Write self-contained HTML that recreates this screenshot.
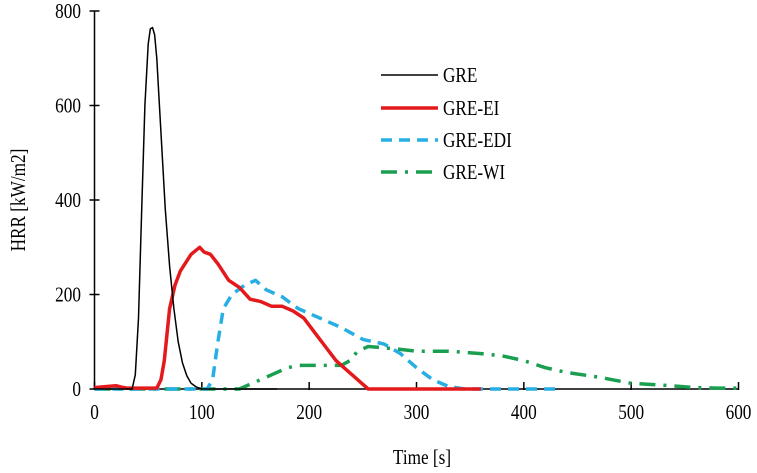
<!DOCTYPE html>
<html><head><meta charset="utf-8"><style>
html,body{margin:0;padding:0;background:#fff;}
svg{display:block;}
text{font-family:"Liberation Serif",serif;fill:#000;}
</style></head><body>
<svg id="chart" width="757" height="473" viewBox="0 0 757 473" xmlns="http://www.w3.org/2000/svg">
<g id="axes"></g><g id="series"></g><g id="legend"></g>
</svg>
<script>
const xTicks=[0,100,200,300,400,500,600];
const yTicks=[0,200,400,600,800];
const greT=[0,30,35,38,41,44,47,50,52,54,56,58,60,63,66,70,74,78,82,86,90,95,100,170];
const greV=[0,0,0,30,150,380,600,730,762,765,750,700,620,500,380,260,170,100,55,28,12,4,0,0];
const eiT=[0,10,20,25,30,45,58,62,65,70,75,80,90,98,102,108,115,125,135,145,155,165,175,185,195,205,215,225,235,245,255,300,360];
const eiV=[3,5,7,4,2,2,2,20,60,170,220,250,285,300,290,285,265,230,215,190,185,175,175,165,150,120,90,60,40,20,0,0,0];
const ediT=[0,105,110,115,120,128,140,150,160,175,190,210,230,250,270,285,300,315,330,345,430];
const ediV=[0,0,20,100,170,200,220,230,210,195,170,150,130,105,95,75,45,20,5,0,0];
const wiT=[0,135,150,165,180,190,210,230,238,245,255,280,300,330,360,380,400,420,440,470,500,530,560,580,600];
const wiV=[0,0,15,30,45,50,50,50,60,80,90,85,80,80,75,70,60,45,35,25,12,8,3,2,2];
const names=['GRE','GRE-EI','GRE-EDI','GRE-WI'];
const NS='http://www.w3.org/2000/svg';
const X0=94.5,X1=738.5,Y0=389,Y1=11;
const sx=t=>X0+(t/600)*(X1-X0);
const sy=v=>Y0-(v/800)*(Y0-Y1);
function mk(tag,attrs,parent){const e=document.createElementNS(NS,tag);for(const k in attrs)e.setAttribute(k,attrs[k]);parent.appendChild(e);return e;}
const FS=21,SC=0.82;
const axes=document.getElementById('axes');
const ya=mk('line',{x1:X0,y1:Y1,x2:X0,y2:Y0,stroke:'#000','stroke-width':1.5},axes);


const xa=mk('line',{x1:X0,y1:Y0,x2:X1,y2:Y0,stroke:'#000','stroke-width':1.5},axes);


xTicks.forEach(t=>{
  const l=mk('line',{x1:sx(t),y1:Y0-7,x2:sx(t),y2:Y0+1,stroke:'#000','stroke-width':1.5},axes);
  
  
  const tx=mk('text',{x:sx(t),y:419,'text-anchor':'middle','font-size':FS,transform:`translate(${sx(t)},0) scale(${SC},1) translate(${-sx(t)},0)`},axes);
  tx.textContent=t;
  
  
});
yTicks.forEach(v=>{
  const l=mk('line',{x1:X0-5,y1:sy(v),x2:X0+5,y2:sy(v),stroke:'#000','stroke-width':1.5},axes);
  
  
  const tx=mk('text',{x:81,y:sy(v)+7,'text-anchor':'end','font-size':FS,transform:`translate(81,0) scale(${SC},1) translate(-81,0)`},axes);
  tx.textContent=v;
  
  
});
const xt=mk('text',{x:422,y:464,'text-anchor':'middle','font-size':FS,transform:`translate(422,0) scale(${SC},1) translate(-422,0)`},axes);
xt.textContent='Time [s]';


const yt=mk('text',{x:0,y:0,'text-anchor':'middle','font-size':FS,transform:`translate(25,200) rotate(-90) scale(${SC},1)`},axes);
yt.textContent='HRR [kW/m2]';


const styles=[
 {stroke:'#000','stroke-width':1.5,dash:''},
 {stroke:'#e3191c','stroke-width':3.5,dash:''},
 {stroke:'#27aee3','stroke-width':3.5,dash:'11,7'},
 {stroke:'#1a9e4f','stroke-width':3.5,dash:'16,8,3,8'}];
const data=[[greT,greV],[eiT,eiV],[ediT,ediV],[wiT,wiV]];
const ser=document.getElementById('series');
const order=[3,2,1,0];
order.forEach(i=>{
  const [T,V]=data[i];const s=styles[i];
  const d=T.map((t,k)=>(k?'L':'M')+sx(t).toFixed(1)+','+sy(V[k]).toFixed(1)).join(' ');
  const p=mk('path',{d:d,fill:'none',stroke:s.stroke,'stroke-width':s['stroke-width'],'stroke-dasharray':s.dash,'stroke-linejoin':'round'},ser);
  
  
});
const lg=document.getElementById('legend');
const ly=[75,108,140,172];
names.forEach((n,i)=>{
  const s=styles[i];
  const l=mk('line',{x1:381,y1:ly[i],x2:438,y2:ly[i],stroke:s.stroke,'stroke-width':s['stroke-width'],'stroke-dasharray':s.dash},lg);
  
  
  const t=mk('text',{x:443,y:ly[i]+7,'font-size':FS,transform:`translate(443,0) scale(${SC},1) translate(-443,0)`},lg);
  t.textContent=n;
  
  
});
</script>
</body></html>
